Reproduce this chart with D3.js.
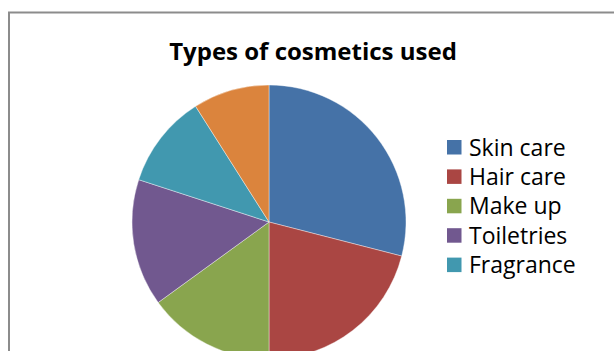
<!DOCTYPE html>
<html>
<head>
<meta charset="utf-8">
<script src="https://cdn.jsdelivr.net/npm/d3@7"></script>
<style>
  html, body { margin: 0; padding: 0; background: #fff; overflow: hidden; }
  #chart { width: 614px; height: 351px; }
</style>
</head>
<body>
<div id="chart"></div>
<script>
(function () {
  /* ----------------------- Data ----------------------- */
  const categories = ["Skin care", "Hair care", "Make up", "Toiletries", "Fragrance", "Others"];
  const shares = [29, 21, 15, 15, 11, 9];
  const colors = ["#4572a7", "#aa4643", "#89a54e", "#71588f", "#4198af", "#db843d"];
  const legendShown = 5; // the last entry is clipped off in the original

  const width = 614;
  const height = 351;

  const svg = d3
    .select("#chart")
    .append("svg")
    .attr("width", width)
    .attr("height", height);

  // chart frame (only top and left edges are visible)
  svg.append("path")
    .attr("d", `M9,${height} V12.5 H${width}`)
    .attr("fill", "none")
    .attr("stroke", "#8c8c8c")
    .attr("stroke-width", 2);

  // Title
  svg.append("text")
    .attr("x", 313)
    .attr("y", 60)
    .attr("text-anchor", "middle")
    .attr("font-family", "'Open Sans', sans-serif")
    .attr("font-weight", "bold")
    .attr("font-size", 24)
    .attr("fill", "#000")
    .text("Types of cosmetics used");

  /* ----------------------- Pie ----------------------- */
  const data = categories.map((c, i) => ({ name: c, value: shares[i] }));
  const color = d3.scaleOrdinal().domain(categories).range(colors);
  const pie = d3.pie().value(d => d.value).sort(null);
  const arc = d3.arc().innerRadius(0).outerRadius(137);

  const g = svg.append("g").attr("transform", "translate(269,222)");
  g.selectAll("path")
    .data(pie(data))
    .enter()
    .append("path")
    .attr("d", arc)
    .attr("fill", d => color(d.data.name))
    .attr("stroke", "#fff")
    .attr("stroke-width", 0.4);

  /* ----------------------- Legend ----------------------- */
  const legend = svg.append("g").attr("transform", "translate(447,140)");
  const items = legend.selectAll("g")
    .data(categories.slice(0, legendShown))
    .enter()
    .append("g")
    .attr("transform", (d, i) => `translate(0,${i * 29.4})`);

  items.append("rect")
    .attr("width", 14.5)
    .attr("height", 14.5)
    .attr("fill", d => color(d));

  items.append("text")
    .attr("x", 22)
    .attr("y", 7.5)
    .attr("dy", "0.35em")
    .attr("font-family", "'Open Sans', sans-serif")
    .attr("font-size", 23)
    .attr("fill", "#000")
    .text(d => d);
})();
</script>
</body>
</html>
